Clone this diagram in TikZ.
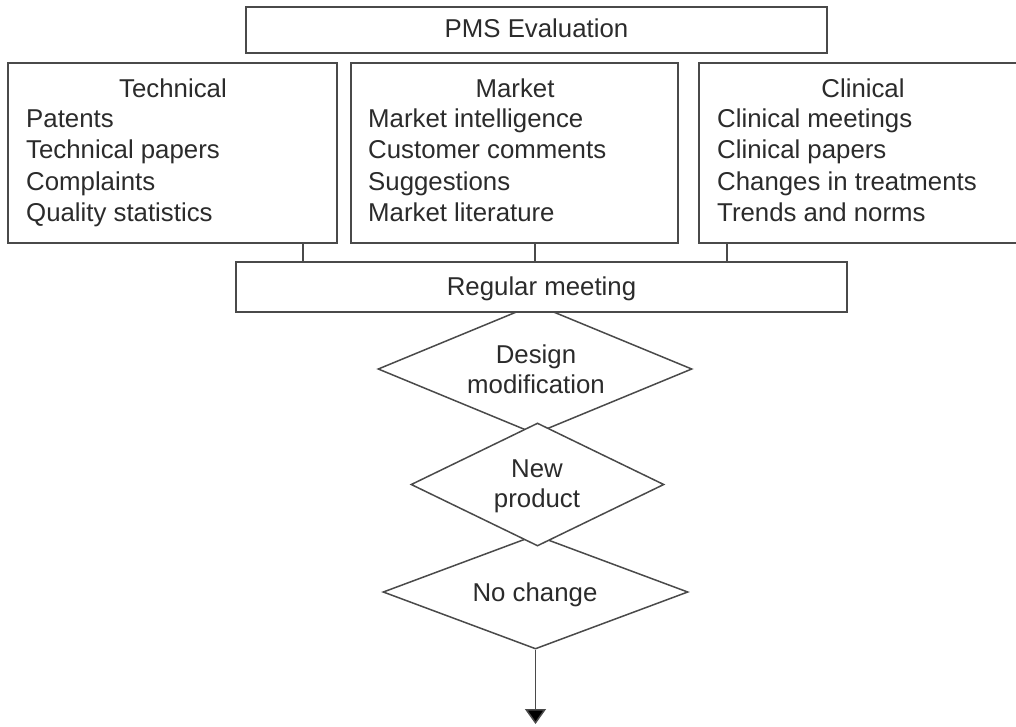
\documentclass[tikz,border=0pt]{standalone}
\usepackage{fontspec}
\setmainfont{Liberation Sans}
\usetikzlibrary{shapes.geometric,arrows.meta}
\definecolor{ink}{HTML}{2B2B2B}
\definecolor{edge}{HTML}{4A4A4A}
\tikzset{
  frame/.style={draw=edge, line width=1.7pt, fill=white, rectangle, inner sep=0pt},
  choice/.style={draw=edge, line width=1.5pt, fill=white, diamond, inner sep=0pt},
  txt/.style={text=ink, font=\fontsize{25.8}{30}\selectfont, inner sep=0pt, anchor=base},
  itm/.style={txt, anchor=base west},
  link/.style={draw=edge, line width=1.7pt},
}
\begin{document}
\begin{tikzpicture}[x=1pt, y=-1pt]
\useasboundingbox (0,0) rectangle (1016,726);
\clip (0,0) rectangle (1016,726);

% header
\node[frame, minimum width=581, minimum height=46] (pms) at (536.5,30) {};
\node[txt] (pmst) at (536.5,37) {PMS Evaluation};

% the three sources of information
\node[frame, minimum width=329, minimum height=180] (tech) at (172.5,153) {};
\node[frame, minimum width=327, minimum height=180] (mkt)  at (514.5,153) {};
\node[frame, minimum width=329, minimum height=180] (clin) at (863.5,153) {};

\node[txt] (techt) at (173,97) {Technical};
\node[txt] (mktt)  at (515,97) {Market};
\node[txt] (clint) at (863,97) {Clinical};

\foreach \t [count=\i] in {Patents, Technical papers, Complaints, Quality statistics}
  \node[itm] (techi\i) at (26,{127+31.6*(\i-1)}) {\t};
\foreach \t [count=\i] in {Market intelligence, Customer comments, Suggestions, Market literature}
  \node[itm] (mkti\i) at (368,{127+31.6*(\i-1)}) {\t};
\foreach \t [count=\i] in {Clinical meetings, Clinical papers, Changes in treatments, Trends and norms}
  \node[itm] (clini\i) at (717,{127+31.6*(\i-1)}) {\t};

% outcomes
\node[choice, minimum width=314, minimum height=130] (design) at (535,369) {};
\node[choice, minimum width=305, minimum height=114] (nochg)  at (535.5,592) {};
\node[choice, minimum width=253, minimum height=123] (newp)   at (537.5,484.5) {};

\node[txt] (designa) at (536,363) {Design};
\node[txt] (designb) at (536,393) {modification};
\node[txt] (newpa) at (537,477) {New};
\node[txt] (newpb) at (537,507) {product};
\node[txt] (nochgt) at (535,601) {No change};

% meeting
\node[frame, minimum width=611, minimum height=50] (reg) at (541.5,287) {};
\node[txt] (regt) at (541.5,295) {Regular meeting};

% links into the meeting
\draw[link] ([xshift=130.5]tech.south) -- ([xshift=130.5]tech.south |- reg.north);
\draw[link] ([xshift=20.5]mkt.south) -- ([xshift=20.5]mkt.south |- reg.north);
\draw[link] ([xshift=-136.8]clin.south) -- ([xshift=-136.8]clin.south |- reg.north);

% outgoing arrow
\coordinate (out) at (535.5,724);
\draw[draw=edge, line width=1.5pt, -{Triangle[width=21pt,length=15pt,fill=black]}] (nochg.south) -- (out);
\end{tikzpicture}
\end{document}
